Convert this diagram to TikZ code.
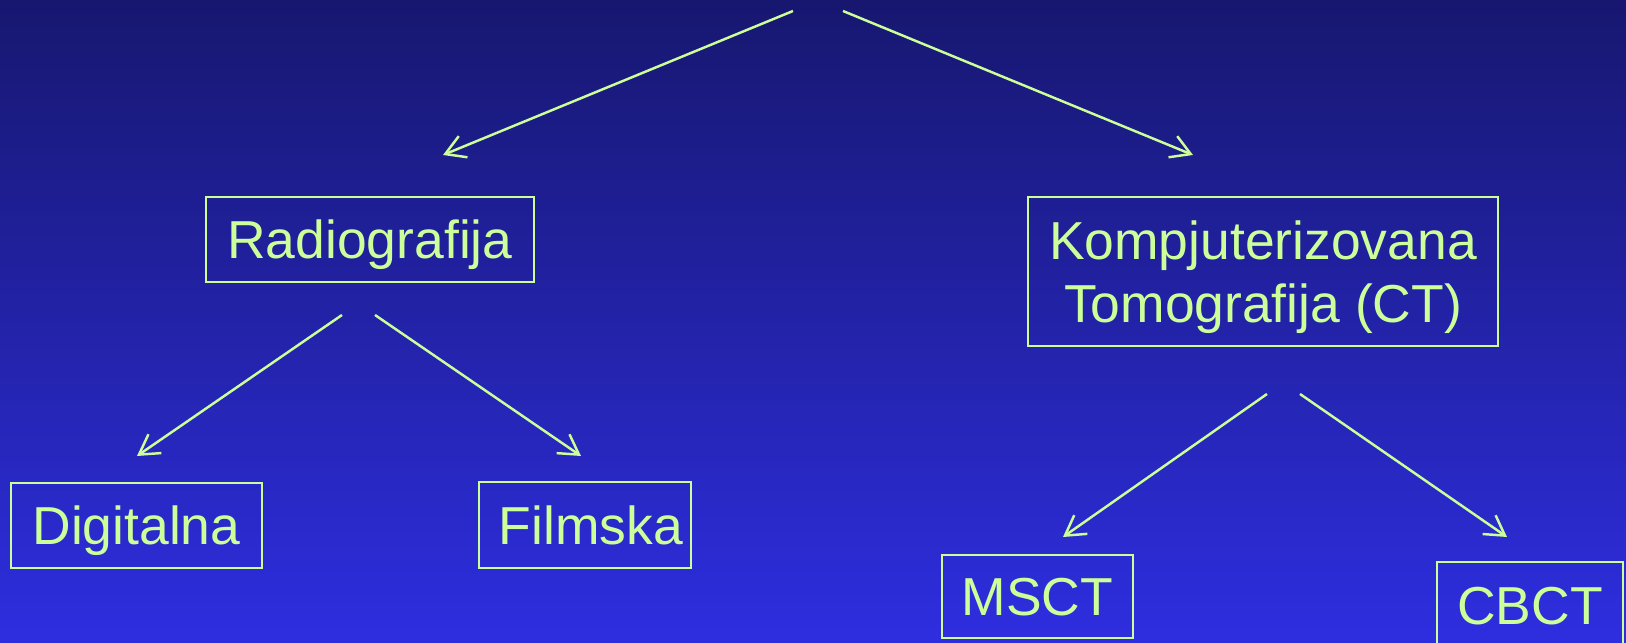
\documentclass[tikz,border=0pt]{standalone}
\usepackage{fontspec}
\setmainfont{Liberation Sans}
\usetikzlibrary{arrows.meta}
\definecolor{lime}{HTML}{CCFF99}
\definecolor{navytop}{HTML}{171770}
\definecolor{bluebottom}{HTML}{2E2EE0}
\tikzset{
  box/.style={draw=lime, line width=0.45pt, text=lime, inner sep=0pt,
    text height=10.95pt, text depth=0pt,
    font=\fontsize{15.2pt}{17.8pt}\selectfont, align=center},
  % two-line box: height spans the cap of line one down to the last baseline
  twoline/.style={text height=28.75pt},
  link/.style={draw=lime, line width=0.7pt,
    -{Straight Barb[length=5.5pt,width=6.5pt,line width=0.7pt]}},
}
\begin{document}
\begin{tikzpicture}[x=0.01cm, y=-0.01cm]
  % backdrop: vertical gradient, dark navy above, bright blue below
  \shade[top color=navytop, bottom color=bluebottom] (0,0) rectangle (1626,643);
  \useasboundingbox (0,0) rectangle (1626,643);

  % boxes
  \node[box, minimum width=3.28cm, minimum height=0.85cm] (radio) at (370,239.5) {Radiografija};
  \node[box, twoline, minimum width=4.70cm, minimum height=1.49cm] (ct) at (1263,271.5) {Kompjuterizovana\\Tomografija (CT)};
  \node[box, minimum width=2.51cm, minimum height=0.85cm] (digi) at (136.5,525.5) {Digitalna};
  \node[box, minimum width=2.12cm, minimum height=0.86cm] (film) at (585,525) {\hspace*{0.12cm}Filmska};
  \node[box, minimum width=1.91cm, minimum height=0.83cm] (msct) at (1037.5,596.5) {MSCT};
  \node[box, minimum width=1.86cm, minimum height=0.86cm] (cbct) at (1530,605) {CBCT};

  % connector ends
  \coordinate (topL) at (793,11);
  \coordinate (topR) at (843,11);
  \coordinate (radioL) at (443,155);
  \coordinate (ctT) at (1193,155);
  \coordinate (radioOutL) at (342,315);
  \coordinate (radioOutR) at (375,315);
  \coordinate (digiT) at (137,456);
  \coordinate (filmT) at (581,456);
  \coordinate (ctOutL) at (1267,394);
  \coordinate (ctOutR) at (1300,394);
  \coordinate (msctT) at (1063,537);
  \coordinate (cbctT) at (1507,537);

  % connectors
  \draw[link] (topL) -- (radioL);
  \draw[link] (topR) -- (ctT);
  \draw[link] (radioOutL) -- (digiT);
  \draw[link] (radioOutR) -- (filmT);
  \draw[link] (ctOutL) -- (msctT);
  \draw[link] (ctOutR) -- (cbctT);
\end{tikzpicture}
\end{document}
